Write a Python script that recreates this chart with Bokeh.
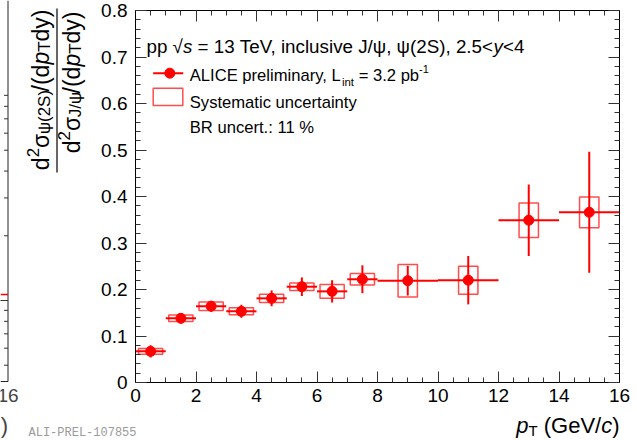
import math
from math import pi
from bokeh.plotting import figure
from bokeh.models import (ColumnDataSource, Label, LinearAxis, SingleIntervalTicker,
                          Range1d, PolyAnnotation)
from bokeh.embed import file_html
from bokeh.resources import INLINE

# ---------------- data ----------------
pt_center = [0.5, 1.5, 2.5, 3.5, 4.5, 5.5, 6.5, 7.5, 9.0, 11.0, 13.0, 15.0]
pt_halfwidth = [0.5, 0.5, 0.5, 0.5, 0.5, 0.5, 0.5, 0.5, 1.0, 1.0, 1.0, 1.0]
ratio = [0.067, 0.138, 0.164, 0.153, 0.181, 0.206, 0.196, 0.222, 0.219, 0.220, 0.349, 0.366]
stat_err = [0.013, 0.011, 0.012, 0.014, 0.017, 0.020, 0.024, 0.030, 0.032, 0.052, 0.077, 0.130]
syst_err = [0.006, 0.007, 0.009, 0.0075, 0.009, 0.008, 0.015, 0.0125, 0.035, 0.030, 0.037, 0.033]
syst_box_halfwidth = [0.4, 0.4, 0.4, 0.4, 0.4, 0.4, 0.4, 0.4, 0.32, 0.32, 0.32, 0.32]

x_ticks_interval = 2
y_ticks_interval = 0.1
x_axis_range = (0, 16)
y_axis_range = (0, 0.8)

# ---------------- layout constants ----------------
W, H = 637, 440
FL, FR, FT, FB = 135, 619, 10, 382   # where the axis box sits, screen px
FONT = "Liberation Sans"
RED = "#ff0000"

UX = (x_axis_range[1] - x_axis_range[0]) / (FR - FL)
UY = (y_axis_range[1] - y_axis_range[0]) / (FB - FT)


def dx(sx):
    return x_axis_range[0] + (sx - FL) * UX


def dy(sy):
    return y_axis_range[0] + (FB - sy) * UY


AW = {' ': 278, '\u00a0': 278, '!': 278, '%': 889, '(': 333, ')': 333, ',': 278, '-': 333,
      '.': 278, '/': 278, ':': 278, '<': 584, '=': 584, '>': 584, '0': 556, '1': 556, '2': 556,
      '3': 556, '4': 556, '5': 556, '6': 556, '7': 556, '8': 556, '9': 556, 'A': 667, 'B': 667,
      'C': 722, 'E': 667, 'G': 778, 'I': 278, 'J': 500, 'L': 556, 'P': 667, 'R': 722, 'S': 667,
      'T': 611, 'V': 667, 'a': 556, 'b': 556, 'c': 500, 'd': 556, 'e': 556, 'i': 222, 'l': 222,
      'm': 833, 'n': 556, 'p': 556, 'r': 333, 's': 500, 't': 278, 'u': 556, 'v': 500, 'y': 500,
      'σ': 600, 'ψ': 620, '√': 549}


def tw(s, size):
    return sum(AW.get(c, 556) for c in s) / 1000.0 * size


# the plotting frame covers the whole canvas; the axes are pinned at the box edges
p = figure(width=W, height=H,
           x_range=Range1d(dx(0), dx(W)), y_range=Range1d(dy(H), dy(0)),
           output_backend="svg", toolbar_location=None,
           min_border=0, min_border_left=0, min_border_right=0,
           min_border_top=0, min_border_bottom=0,
           x_axis_type=None, y_axis_type=None)
p.xgrid.visible = False
p.ygrid.visible = False
p.outline_line_color = None
p.background_fill_color = "white"
p.border_fill_color = "white"


def make_axis(ticker, bounds, loc, labels=True):
    ax = LinearAxis(ticker=ticker, bounds=bounds, fixed_location=loc)
    ax.major_tick_in = 11
    ax.major_tick_out = 0
    ax.minor_tick_in = 5
    ax.minor_tick_out = 0
    ax.major_tick_line_color = "#333333"
    ax.minor_tick_line_color = "#333333"
    ax.axis_line_color = "black"
    ax.axis_line_width = 1
    if labels:
        ax.major_label_text_font = FONT
        ax.major_label_text_font_size = "19px"
        ax.major_label_text_color = "black"
    else:
        ax.major_label_text_color = None
        ax.major_label_text_alpha = 0
    return ax


xb = make_axis(SingleIntervalTicker(interval=x_ticks_interval, num_minor_ticks=4),
               x_axis_range, y_axis_range[0])
xb.major_label_standoff = 6
yl = make_axis(SingleIntervalTicker(interval=y_ticks_interval, num_minor_ticks=5),
               y_axis_range, x_axis_range[0])
yl.major_label_standoff = 8
xt_ax = make_axis(SingleIntervalTicker(interval=x_ticks_interval, num_minor_ticks=4),
                  x_axis_range, y_axis_range[1], labels=False)
yr_ax = make_axis(SingleIntervalTicker(interval=y_ticks_interval, num_minor_ticks=5),
                  y_axis_range, x_axis_range[1], labels=False)
p.add_layout(xb, "below")
p.add_layout(yl, "left")
p.add_layout(xt_ax, "above")
p.add_layout(yr_ax, "right")

# ---------------- data glyphs ----------------
src = ColumnDataSource(dict(
    x=pt_center, y=ratio,
    xl=[c - h for c, h in zip(pt_center, pt_halfwidth)],
    xr=[c + h for c, h in zip(pt_center, pt_halfwidth)],
    yl=[v - e for v, e in zip(ratio, stat_err)],
    yh=[v + e for v, e in zip(ratio, stat_err)],
    bl=[c - h for c, h in zip(pt_center, syst_box_halfwidth)],
    br=[c + h for c, h in zip(pt_center, syst_box_halfwidth)],
    bb=[v - e for v, e in zip(ratio, syst_err)],
    bt=[v + e for v, e in zip(ratio, syst_err)],
))
p.quad(left="bl", right="br", bottom="bb", top="bt", source=src, fill_alpha=0,
       line_color=RED, line_alpha=0.7, line_width=1.5)
p.segment(x0="xl", x1="xr", y0="y", y1="y", source=src, line_color=RED, line_width=2)
p.segment(x0="x", x1="x", y0="yl", y1="yh", source=src, line_color=RED, line_width=2)
p.scatter(x="x", y="y", source=src, size=10, marker="circle", fill_color=RED,
          line_color=RED)

# ---------------- text helpers ----------------


def runs(items, sx, sy, rotated=False, color="black", font=FONT):
    pos = 0.0
    for t, size, shift, style in items:
        t = t.replace(" ", "\u00a0")
        if rotated:
            x, y, ang = sx + shift, sy - pos, pi / 2
        else:
            x, y, ang = sx + pos, sy + shift, 0.0
        p.add_layout(Label(x=dx(x), y=dy(y), text=t, text_font=font,
                           text_font_size=f"{size}px", text_font_style=style,
                           text_color=color, text_align="left",
                           text_baseline="alphabetic", angle=ang))
        pos += tw(t, size)
    return pos


def line(sxs, sys, color="black", width=1.0, alpha=1.0):
    p.add_layout(PolyAnnotation(xs=[dx(v) for v in sxs], ys=[dy(v) for v in sys],
                                fill_alpha=0, line_color=color, line_width=width,
                                line_alpha=alpha))


# header
HS = 18.8
runs([("pp √", HS, 0, "normal"), ("s", HS, 0, "italic"),
      (" = 13 TeV, inclusive J/ψ, ψ(2S), 2.5<", HS, 0, "normal"),
      ("y", HS, 0, "italic"), ("<4", HS, 0, "normal")], 146, 46)

# legend
LS = 16.6
p.segment(x0=[dx(152.7)], x1=[dx(182.7)], y0=[dy(72.7)], y1=[dy(72.7)], line_color=RED,
          line_width=2)
p.scatter(x=[dx(169.3)], y=[dy(72.7)], size=10, marker="circle", fill_color=RED,
          line_color=RED)
p.quad(left=[dx(152.7)], right=[dx(182.3)], top=[dy(87.7)], bottom=[dy(105)],
       fill_alpha=0, line_color=RED, line_alpha=0.7, line_width=1.5)
runs([("ALICE preliminary, L", LS, 0, "normal"), ("int", 11.4, 6.5, "normal"),
      (" = 3.2 pb", LS, 0, "normal"), ("-1", 11, -6.5, "normal")], 189.3, 75)
runs([("Systematic uncertainty", LS, 0, "normal")], 189.3, 102)
runs([("BR uncert.: 11 %", LS, 0, "normal")], 189.3, 126.7)

# y-axis title (fraction, rotated)
TS, SS = 23, 17
num = [("d", TS, 0, "normal"), ("2", SS, -8, "normal"), ("σ", TS, 0, "normal"),
       ("ψ(2S)", SS, 3.5, "normal"), ("/(d", TS, 0, "normal"), ("p", TS, 0, "italic"),
       ("T", SS, 3.5, "normal"), ("dy)", TS, 0, "normal")]
den = [("d", TS, 0, "normal"), ("2", SS, -8, "normal"), ("σ", TS, 0, "normal"),
       ("J/ψ", SS, 3.5, "normal"), ("/(d", TS, 0, "normal"), ("p", TS, 0, "italic"),
       ("T", SS, 3.5, "normal"), ("dy)", TS, 0, "normal")]
lnum = sum(tw(t, s) for t, s, _, _ in num)
lden = sum(tw(t, s) for t, s, _, _ in den)
runs(num, 40, 9 + lnum, rotated=True)
runs(den, 71, 11 + lden, rotated=True)
line([56.5, 56.5], [8, 172], width=1.2)

# x-axis title
XS, XSS = 22, 15
xt = [("p", XS, 0, "italic"), ("T", XSS, 4.5, "normal"), (" (GeV/", XS, 0, "normal"),
      ("c", XS, 0, "italic"), (")", XS, 0, "normal")]
lx = sum(tw(t, s) for t, s, _, _ in xt)
runs(xt, FR - lx, 425)

# preliminary tag
runs([("ALI-PREL-107855", 12, 0, "normal")], 28, 432, color="#9a9a9a",
     font="Liberation Mono")

# ---------------- remnant of neighbouring panel on the left ----------------
EDGE, BOT = 7.5, 381
line([EDGE, EDGE], [0, BOT], color="#222222")
line([0, EDGE], [BOT, BOT], color="#222222")
line([0, EDGE], [294, 294], color=RED, width=1.5)
for top in (85, 300, 515):
    for k in range(1, 10):
        yy = top + 215 - math.log10(k) * 215
        if 0 < yy < BOT:
            ln = 8 if k == 1 else 4
            line([EDGE - ln, EDGE], [yy, yy], color="#333333")
p.add_layout(Label(x=dx(EDGE), y=dy(388), text="16", text_font=FONT,
                   text_font_size="19px", text_align="center", text_baseline="top"))
p.add_layout(Label(x=dx(EDGE), y=dy(425), text=")", text_font=FONT,
                   text_font_size="22px", text_align="right", text_baseline="alphabetic"))

open("out.html", "w").write(file_html(p, INLINE))
